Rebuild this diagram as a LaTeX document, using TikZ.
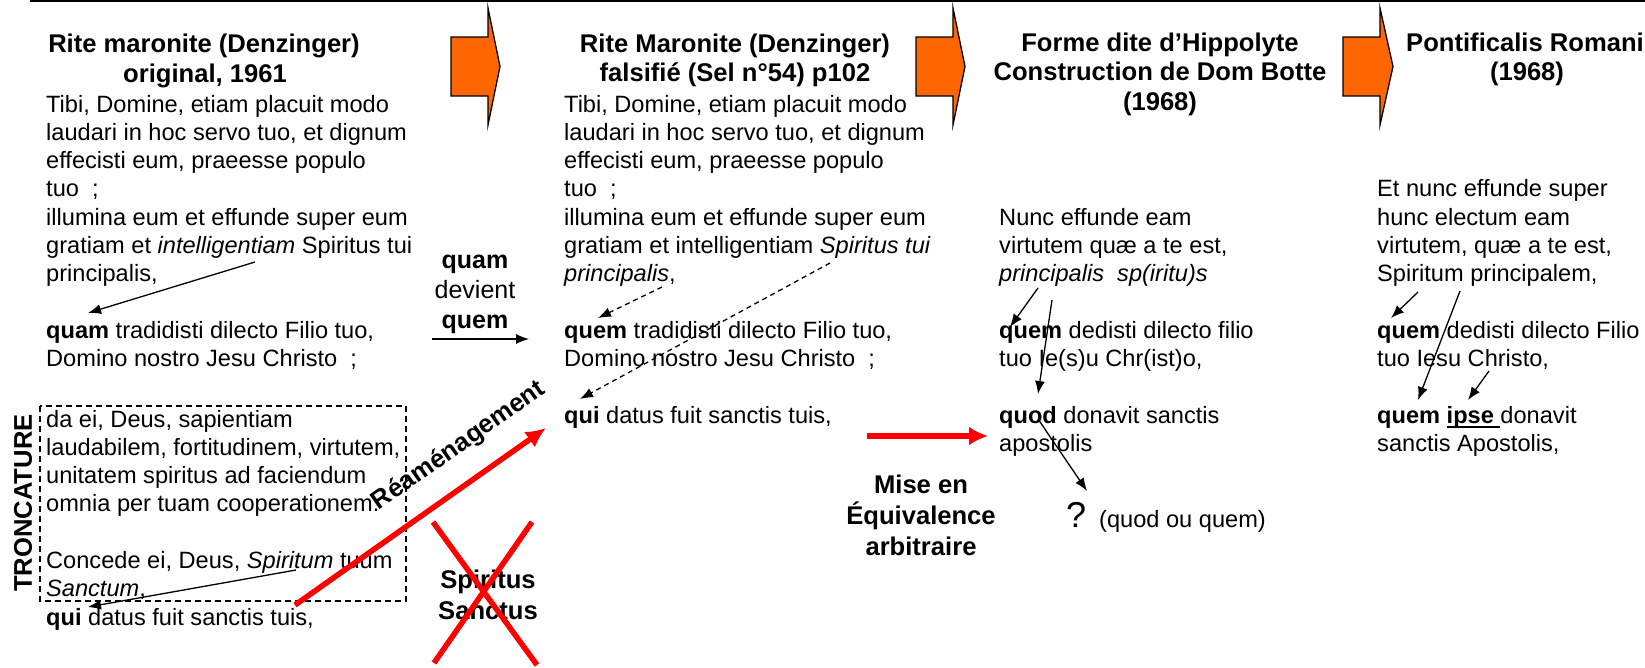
\documentclass[tikz,border=0pt]{standalone}
\usepackage{fontspec}
\setmainfont{Liberation Sans}
\usetikzlibrary{arrows.meta}
\definecolor{orng}{RGB}{255,102,0}
\definecolor{rred}{RGB}{255,0,0}
\newcommand\myul[1]{\setbox0\hbox{#1}\rlap{\rule[-4.5pt]{\wd0}{1.8pt}}\box0}
\begin{document}
\begin{tikzpicture}[x=1pt,y=-1pt,
  body/.style={anchor=base west, inner sep=0, font=\fontsize{23.6}{28.3}\selectfont},
  ttl/.style={anchor=base, inner sep=0, font=\fontsize{25.6}{30}\selectfont\bfseries},
  lbl/.style={anchor=base, inner sep=0, font=\fontsize{25}{30}\selectfont},
  arr/.style={line width=1.3pt, -{Latex[length=13pt,width=10pt]}},
  darr/.style={arr, dash pattern=on 5pt off 4pt},
  bigred/.style={draw=rred, line width=5.5pt, -{Latex[length=20pt,width=19pt]}},
  oarrow/.style={draw=black, line width=1.3pt, fill=orng, line join=miter},
  redx/.style={draw=rred, line width=5.5pt}]
\useasboundingbox (0,0) rectangle (1645,667);
\fill[white] (0,0) rectangle (1645,667);
% top rule
\draw[line width=1.5pt] (30,0.75) -- (1645,0.75);

% orange block arrows
\draw[oarrow] (451,37) -- (488,37) -- (488,8) -- (500,66.5) -- (488,125) -- (488,96) -- (451,96) -- cycle;
\draw[oarrow] (916,37) -- (953,37) -- (953,8) -- (965,66.5) -- (953,125) -- (953,96) -- (916,96) -- cycle;
\draw[oarrow] (1343,37) -- (1380,37) -- (1380,8) -- (1393,66.5) -- (1380,125) -- (1380,96) -- (1343,96) -- cycle;

% titles
\node[ttl] (t1a) at (204,52) {Rite maronite (Denzinger)};
\node[ttl] (t1b) at (205,82) {original, 1961};
\node[ttl] (t2a) at (735,52) {Rite Maronite (Denzinger)};
\node[ttl] (t2b) at (735,81) {falsifié (Sel n°54) p102};
\node[ttl] (t3a) at (1160,51) {Forme dite d’Hippolyte};
\node[ttl] (t3b) at (1160,80) {Construction de Dom Botte};
\node[ttl] (t3c) at (1160,110) {(1968)};
\node[ttl] (t4a) at (1525,51) {Pontificalis Romani};
\node[ttl] (t4b) at (1527,80) {(1968)};

% column 1
\foreach \n/\t in {0/{Tibi, Domine, etiam placuit modo},1/{laudari in hoc servo tuo, et dignum},2/{effecisti eum, praeesse populo},3/{tuo\ \ ;},4/{illumina eum et effunde super eum},5/{gratiam et \textit{intelligentiam} Spiritus tui},6/{principalis,},8/{\textbf{quam} tradidisti dilecto Filio tuo,},9/{Domino nostro Jesu Christo\ \ ;}}
  \node[body] (ca\n) at (46,{112+28.3*\n}) {\t};
\foreach \n/\t in {0/{da ei, Deus, sapientiam},1/{laudabilem, fortitudinem, virtutem,},2/{unitatem spiritus ad faciendum},3/{omnia per tuam cooperationem.},5/{Concede ei, Deus, \textit{Spiritum} tuum},6/{\textit{Sanctum},},7/{\textbf{qui} datus fuit sanctis tuis,}}
  \node[body] (cb\n) at (46,{427+28.3*\n}) {\t};
\draw[line width=1.3pt, dash pattern=on 6pt off 4pt] (40,406) rectangle (406,601);
\node[ttl, rotate=90, anchor=center] (tronc) at (23,503) {TRONCATURE};
\coordinate (c1s1) at (255,262); \coordinate (c1e1) at (88,313);
\draw[arr] (c1s1) -- (c1e1);
\coordinate (c1s2) at (296,570); \coordinate (c1e2) at (88,607);
\draw[arr] (c1s2) -- (c1e2);

% quam devient quem
\node[lbl, font=\fontsize{25}{30}\selectfont\bfseries] (qm1) at (475,268) {quam};
\node[lbl] (qm2) at (475,298) {devient};
\node[lbl, font=\fontsize{25}{30}\selectfont\bfseries] (qm3) at (475,328) {quem};
\coordinate (qs) at (432,339); \coordinate (qe) at (529,339);
\draw[arr] (qs) -- (qe);

% column 2
\foreach \n/\t in {0/{Tibi, Domine, etiam placuit modo},1/{laudari in hoc servo tuo, et dignum},2/{effecisti eum, praeesse populo},3/{tuo\ \ ;},4/{illumina eum et effunde super eum},5/{gratiam et intelligentiam \textit{Spiritus tui}},6/{\textit{principalis},},8/{\textbf{quem} tradidisti dilecto Filio tuo,},9/{Domino nostro Jesu Christo\ \ ;}}
  \node[body] (cc\n) at (564,{112+28.3*\n}) {\t};
\node[body] (cd0) at (564,423.3) {\textbf{qui} datus fuit sanctis tuis,};
\coordinate (c2s1) at (662,287); \coordinate (c2e1) at (598,318);
\draw[darr] (c2s1) -- (c2e1);
\coordinate (c2s2) at (830,263); \coordinate (c2e2) at (580,399);
\draw[darr] (c2s2) -- (c2e2);

% Reamenagement
\coordinate (rs) at (295,605); \coordinate (re) at (546,428);
\draw[bigred] (rs) -- (re);
\node[ttl, rotate=35, anchor=center] (ream) at (459,446) {Réaménagement};

% Spiritus Sanctus crossed
\node[ttl] (ss1) at (488,588) {Spiritus};
\node[ttl] (ss2) at (488,619) {Sanctus};
\draw[redx] (433,522) -- (537,665);
\draw[redx] (532,522) -- (434,663);

% Mise en equivalence
\coordinate (ms) at (867,436); \coordinate (me) at (988,436);
\draw[draw=rred, line width=6pt, -{Latex[length=19pt,width=19pt]}] (ms) -- (me);
\node[ttl] (m1) at (921,493) {Mise en};
\node[ttl] (m2) at (921,524) {Équivalence};
\node[ttl] (m3) at (921,555) {arbitraire};

% column 3
\foreach \n/\t in {4/{Nunc effunde eam},5/{virtutem quæ a te est,},6/{\textit{principalis\ \ sp(iritu)s}},8/{\textbf{quem} dedisti dilecto filio},9/{tuo Ie(s)u Chr(ist)o,}}
  \node[body] (ce\n) at (999,{112+28.3*\n}) {\t};
\node[body] (cf0) at (999,423.3) {\textbf{quod} donavit sanctis};
\node[body] (cf1) at (999,451.6) {apostolis};
\node[body, font=\fontsize{36}{40}\selectfont] (qmark) at (1066,527) {?};
\node[body] (qq) at (1099,527) {(quod ou quem)};
\coordinate (c3s1) at (1038,288); \coordinate (c3e1) at (1010,327);
\draw[arr] (c3s1) -- (c3e1);
\coordinate (c3s2) at (1052,300); \coordinate (c3e2) at (1038,394);
\draw[arr] (c3s2) -- (c3e2);
\coordinate (c3s3) at (1038,419); \coordinate (c3e3) at (1087,491);
\draw[arr] (c3s3) -- (c3e3);

% column 4
\foreach \n/\t in {3/{Et nunc effunde super},4/{hunc electum eam},5/{virtutem, quæ a te est,},6/{Spiritum principalem,},8/{\textbf{quem} dedisti dilecto Filio},9/{tuo Iesu Christo,}}
  \node[body] (cg\n) at (1377,{112+28.3*\n}) {\t};
\node[body] (ch0) at (1377,423.3) {\textbf{quem} \myul{\textbf{ipse} }donavit};
\node[body] (ch1) at (1377,451.6) {sanctis Apostolis,};
\coordinate (c4s1) at (1418,292); \coordinate (c4e1) at (1391,318);
\draw[arr] (c4s1) -- (c4e1);
\coordinate (c4s2) at (1460,291); \coordinate (c4e2) at (1418,400);
\draw[arr] (c4s2) -- (c4e2);
\coordinate (c4s3) at (1489,371); \coordinate (c4e3) at (1468,400);
\draw[arr] (c4s3) -- (c4e3);
\end{tikzpicture}
\end{document}
